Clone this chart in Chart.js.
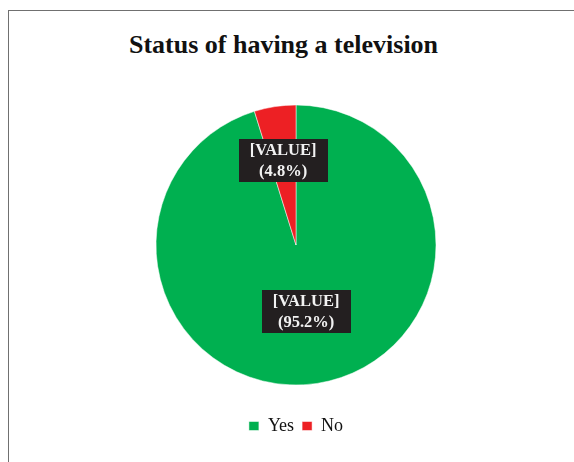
<!DOCTYPE html>
<html>
<head>
<meta charset="utf-8">
<script src="https://cdn.jsdelivr.net/npm/chart.js@4.4.1/dist/chart.umd.min.js"></script>
<style>
  body { margin: 0; background: #fff; }
  #wrap { position: relative; width: 574px; height: 462px; overflow: hidden; }
  #frame { position: absolute; left: 8px; top: 10px; width: 600px; height: 500px; border: 1px solid #707070; }
  #title { position: absolute; left: 0; top: 30px; width: 567px; text-align: center;
    font: bold 26px "Liberation Serif", "Times New Roman", serif; color: #111; }
  canvas { position: absolute; left: 0; top: 0; }
</style>
</head>
<body>
<div id="wrap">
  <div id="frame"></div>
  <div id="title">Status of having a television</div>
  <canvas id="myChart" width="574" height="462"></canvas>
</div>
<script>
//Data
const categories = ['Yes', 'No'];
const percents = [95.2, 4.8];
const colors = ['#00B050', '#ED2024'];
//Label text shown in the boxes
const valueTexts = ['[VALUE]', '[VALUE]'];
const labelFracs = [0.48, 0.61];

//Plugin that draws the black data label boxes on each slice
const boxLabels = {
  id: 'boxLabels',
  afterDatasetsDraw(chart) {
    const ctx = chart.ctx;
    const meta = chart.getDatasetMeta(0);
    ctx.save();
    ctx.font = 'bold 16.5px "Liberation Serif", "Times New Roman", serif';
    ctx.textAlign = 'center';
    ctx.textBaseline = 'middle';
    meta.data.forEach((arc, i) => {
      const mid = (arc.startAngle + arc.endAngle) / 2;
      const r = arc.outerRadius * labelFracs[i];
      const x = arc.x + Math.cos(mid) * r;
      const y = arc.y + Math.sin(mid) * r;
      const line1 = valueTexts[i];
      const line2 = '(' + percents[i].toFixed(1) + '%)';
      const w = Math.max(ctx.measureText(line1).width, ctx.measureText(line2).width) + 22;
      const h = 43;
      ctx.fillStyle = '#231F20';
      ctx.fillRect(Math.round(x - w / 2), Math.round(y - h / 2), Math.round(w), h);
      ctx.fillStyle = '#F2F2F2';
      ctx.fillText(line1, x, y - 10);
      ctx.fillText(line2, x, y + 11);
    });
    ctx.restore();
  }
};

const ctx = document.getElementById('myChart').getContext('2d');
new Chart(ctx, {
  type: 'pie',
  data: {
    labels: categories,
    datasets: [{
      data: percents,
      backgroundColor: colors,
      borderColor: '#ffffff',
      borderWidth: 0.5,
      radius: 140
    }]
  },
  options: {
    responsive: false,
    animation: false,
    layout: { padding: { top: 81, left: 18, right: 0, bottom: 17 } },
    plugins: {
      title: { display: false },
      tooltip: { enabled: false },
      legend: {
        display: true,
        position: 'bottom',
        labels: {
          boxWidth: 10,
          boxHeight: 9,
          padding: 8,
          color: '#111',
          font: { family: '"Liberation Serif", "Times New Roman", serif', size: 18 }
        }
      }
    }
  },
  plugins: [boxLabels]
});
</script>
</body>
</html>
